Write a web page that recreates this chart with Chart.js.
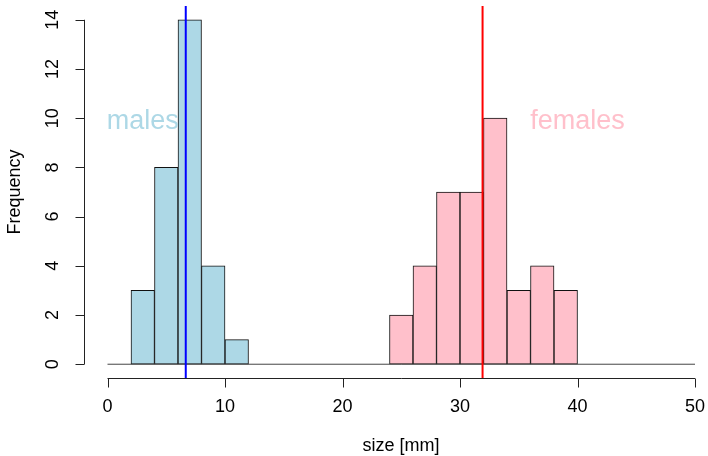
<!DOCTYPE html>
<html>
<head>
<meta charset="utf-8">
<script src="https://cdn.jsdelivr.net/npm/chart.js@4/dist/chart.umd.min.js"></script>
<style>
  html, body { margin: 0; padding: 0; background: #fff; }
  canvas { display: block; }
</style>
</head>
<body>
<canvas id="histChart" width="708" height="456"></canvas>
<script>
// histogram data (bin lower edges, width 2 mm)
const maleBins = [2, 4, 6, 8, 10];
const maleCounts = [3, 8, 14, 4, 1];
const femaleBins = [24, 26, 28, 30, 32, 34, 36, 38];
const femaleCounts = [2, 4, 7, 7, 10, 3, 4, 3];
const binWidth = 2;

// mean lines
const maleMean = 6.66;
const femaleMean = 31.92;

// axis ticks
const xTicks = [0, 10, 20, 30, 40, 50];
const yTicks = [0, 2, 4, 6, 8, 10, 12, 14];

const fontFamily = '"Liberation Sans", Arial, sans-serif';

const toBars = (bins, counts) => bins.map((b, i) => ({ x: b + binWidth / 2, y: counts[i] }));

// R-style axes, labels and annotations
const rStyle = {
    id: 'rStyle',
    afterDatasetsDraw(chart) {
        const ctx = chart.ctx;
        const xs = chart.scales.x;
        const ys = chart.scales.y;
        const area = chart.chartArea;
        ctx.save();
        ctx.strokeStyle = '#222';
        ctx.fillStyle = '#000';
        ctx.lineWidth = 1;

        // y axis
        const ax = Math.round(area.left) + 0.5;
        ctx.beginPath();
        ctx.moveTo(ax, ys.getPixelForValue(yTicks[0]));
        ctx.lineTo(ax, ys.getPixelForValue(yTicks[yTicks.length - 1]));
        yTicks.forEach(t => {
            const py = Math.round(ys.getPixelForValue(t)) + 0.5;
            ctx.moveTo(ax, py);
            ctx.lineTo(ax - 9, py);
        });
        ctx.stroke();
        ctx.font = '18px ' + fontFamily;
        ctx.textAlign = 'center';
        ctx.textBaseline = 'middle';
        yTicks.forEach(t => {
            ctx.save();
            ctx.translate(53, ys.getPixelForValue(t));
            ctx.rotate(-Math.PI / 2);
            ctx.fillText(String(t), 0, 0);
            ctx.restore();
        });

        // x axis
        const ay = Math.round(area.bottom) + 0.5;
        ctx.beginPath();
        ctx.moveTo(xs.getPixelForValue(xTicks[0]), ay);
        ctx.lineTo(xs.getPixelForValue(xTicks[xTicks.length - 1]), ay);
        xTicks.forEach(t => {
            const px = Math.round(xs.getPixelForValue(t)) + 0.5;
            ctx.moveTo(px, ay);
            ctx.lineTo(px, ay + 9);
        });
        ctx.stroke();
        xTicks.forEach(t => {
            ctx.fillText(String(t), xs.getPixelForValue(t), 407);
        });

        // axis titles
        ctx.fillText('size [mm]', (area.left + area.right + 11) / 2, 446);
        ctx.save();
        ctx.translate(15, (area.top + area.bottom) / 2);
        ctx.rotate(-Math.PI / 2);
        ctx.fillText('Frequency', 0, 0);
        ctx.restore();

        // group labels
        ctx.font = '27px ' + fontFamily;
        ctx.fillStyle = 'lightblue';
        ctx.fillText('males', xs.getPixelForValue(3), ys.getPixelForValue(10) + 3);
        ctx.fillStyle = 'pink';
        ctx.fillText('females', xs.getPixelForValue(40), ys.getPixelForValue(10) + 3);
        ctx.restore();
    }
};

new Chart(document.getElementById('histChart'), {
    type: 'bar',
    data: {
        datasets: [
            {
                label: 'males',
                data: toBars(maleBins, maleCounts),
                backgroundColor: 'lightblue',
                borderColor: '#111',
                borderWidth: 1,
                borderSkipped: false,
                barPercentage: 1,
                categoryPercentage: 1,
                grouped: false,
                order: 3
            },
            {
                label: 'females',
                data: toBars(femaleBins, femaleCounts),
                backgroundColor: 'pink',
                borderColor: '#111',
                borderWidth: 1,
                borderSkipped: false,
                barPercentage: 1,
                categoryPercentage: 1,
                grouped: false,
                order: 3
            },
            {
                type: 'line',
                label: 'baseline',
                data: [{ x: xTicks[0], y: 0 }, { x: xTicks[xTicks.length - 1], y: 0 }],
                borderColor: '#444',
                borderWidth: 1,
                pointRadius: 0,
                order: 2
            },
            {
                type: 'line',
                label: 'male mean',
                data: [{ x: maleMean, y: -1 }, { x: maleMean, y: 16 }],
                borderColor: 'blue',
                borderWidth: 2,
                pointRadius: 0,
                order: 1
            },
            {
                type: 'line',
                label: 'female mean',
                data: [{ x: femaleMean, y: -1 }, { x: femaleMean, y: 16 }],
                borderColor: 'red',
                borderWidth: 2,
                pointRadius: 0,
                order: 1
            }
        ]
    },
    options: {
        responsive: false,
        animation: false,
        layout: { padding: { left: 84, right: 1, top: 6, bottom: 78 } },
        scales: {
            x: { type: 'linear', min: -2, max: 51.02, offset: false, display: false },
            y: { type: 'linear', min: -0.56, max: 14.56, display: false }
        },
        plugins: {
            legend: { display: false },
            tooltip: { enabled: false }
        }
    },
    plugins: [rStyle]
});
</script>
</body>
</html>
